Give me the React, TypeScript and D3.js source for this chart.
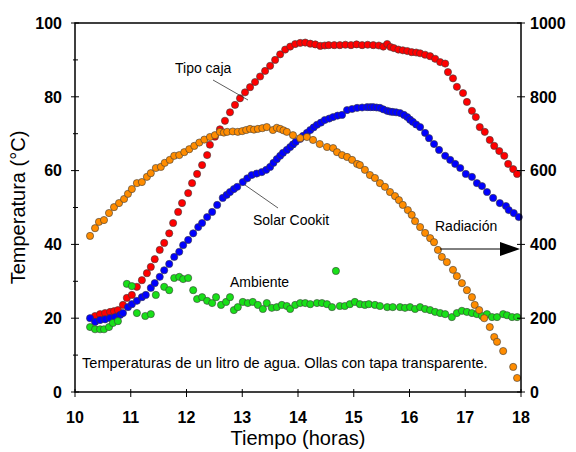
import React from 'react';
import * as d3 from 'd3';

// Tipo caja (°C)
const cajaT = [10.36, 10.45, 10.54, 10.63, 10.7, 10.77, 10.86, 10.93, 11.02, 11.11, 11.2, 11.29, 11.36, 11.43, 11.52, 11.6, 11.69, 11.76, 11.85, 11.92, 12.03, 12.1, 12.19, 12.28, 12.37, 12.42, 12.51, 12.6, 12.69, 12.78, 12.87, 12.96, 13.05, 13.14, 13.23, 13.32, 13.41, 13.5, 13.59, 13.68, 13.77, 13.86, 13.95, 14.04, 14.13, 14.22, 14.31, 14.4, 14.48, 14.55, 14.65, 14.75, 14.85, 14.95, 15.05, 15.15, 15.25, 15.35, 15.45, 15.53, 15.6, 15.66, 15.72, 15.8, 15.88, 15.96, 16.04, 16.12, 16.19, 16.28, 16.37, 16.46, 16.55, 16.64, 16.69, 16.78, 16.85, 16.96, 17.03, 17.12, 17.19, 17.26, 17.35, 17.44, 17.52, 17.61, 17.7, 17.77, 17.86, 17.93];
const cajaV = [20.6, 21.1, 21.4, 21.7, 21.9, 22.2, 23.6, 25.5, 26.3, 28.5, 30.3, 32.2, 33.9, 36.0, 38.5, 40.4, 43.0, 45.8, 48.8, 51.2, 53.9, 56.6, 59.1, 61.5, 64.2, 67.0, 69.2, 71.2, 73.5, 75.8, 77.8, 79.6, 81.2, 82.6, 84.0, 85.5, 87.0, 88.4, 90.0, 91.5, 92.8, 93.6, 94.3, 94.6, 94.7, 94.4, 94.2, 93.8, 93.9, 94.0, 94.0, 94.0, 94.1, 94.0, 94.2, 94.0, 94.1, 94.0, 93.9, 93.6, 94.3, 93.5, 93.2, 92.8, 92.6, 92.4, 92.1, 92.0, 91.8, 91.4, 91.0, 90.3, 89.4, 89.0, 86.7, 85.0, 82.7, 81.0, 78.6, 76.2, 74.5, 71.8, 70.5, 68.3, 66.7, 65.3, 64.0, 61.8, 60.4, 59.1];

// Solar Cookit (°C)
const cookitT = [10.27, 10.36, 10.45, 10.54, 10.63, 10.72, 10.81, 10.86, 10.95, 11.02, 11.11, 11.2, 11.27, 11.36, 11.43, 11.52, 11.6, 11.69, 11.78, 11.87, 11.94, 12.03, 12.12, 12.21, 12.28, 12.37, 12.46, 12.55, 12.65, 12.72, 12.78, 12.85, 12.91, 13.01, 13.09, 13.17, 13.26, 13.35, 13.43, 13.5, 13.56, 13.62, 13.68, 13.73, 13.8, 13.86, 13.91, 13.96, 14.04, 14.09, 14.16, 14.22, 14.28, 14.34, 14.41, 14.48, 14.56, 14.63, 14.71, 14.79, 14.88, 14.97, 15.06, 15.15, 15.24, 15.3, 15.35, 15.41, 15.47, 15.53, 15.6, 15.65, 15.7, 15.76, 15.83, 15.9, 15.96, 16.01, 16.06, 16.12, 16.19, 16.28, 16.35, 16.44, 16.53, 16.64, 16.73, 16.82, 16.91, 17.01, 17.12, 17.21, 17.3, 17.39, 17.5, 17.62, 17.73, 17.78, 17.87, 17.96];
const cookitV = [20.0, 19.0, 19.5, 19.7, 20.0, 20.3, 20.9, 21.4, 23.0, 23.8, 24.7, 25.7, 26.3, 28.2, 29.5, 31.2, 33.0, 34.7, 36.6, 38.0, 39.8, 41.2, 43.0, 44.7, 45.8, 47.4, 48.8, 50.7, 52.6, 53.4, 54.2, 55.0, 55.6, 56.9, 57.9, 58.8, 59.2, 59.6, 60.2, 61.0, 62.1, 63.1, 64.0, 64.8, 65.6, 66.4, 67.1, 67.8, 68.6, 69.4, 70.2, 71.0, 71.7, 72.4, 73.0, 73.7, 74.1, 74.5, 74.9, 75.1, 76.4, 76.7, 77.0, 77.1, 77.2, 77.2, 77.2, 77.1, 77.0, 76.6, 76.2, 76.0, 75.9, 75.8, 75.6, 75.1, 74.5, 73.8, 73.2, 72.5, 71.8, 70.2, 68.8, 67.2, 65.6, 64.0, 62.9, 61.8, 60.7, 59.1, 58.3, 56.6, 55.8, 54.2, 52.6, 51.2, 50.4, 49.3, 48.5, 47.4];

// Ambiente (°C)
const ambT = [10.27, 10.36, 10.45, 10.52, 10.61, 10.68, 10.77, 10.93, 11.02, 11.11, 11.26, 11.36, 11.45, 11.6, 11.69, 11.78, 11.87, 11.94, 12.03, 12.12, 12.19, 12.28, 12.37, 12.46, 12.53, 12.62, 12.71, 12.78, 12.85, 12.92, 13.01, 13.1, 13.19, 13.28, 13.37, 13.44, 13.53, 13.62, 13.71, 13.8, 13.86, 13.95, 14.04, 14.13, 14.22, 14.34, 14.43, 14.52, 14.61, 14.68, 14.75, 14.84, 14.93, 15.02, 15.11, 15.2, 15.27, 15.38, 15.47, 15.6, 15.7, 15.83, 15.92, 16.01, 16.1, 16.19, 16.28, 16.37, 16.46, 16.55, 16.64, 16.76, 16.85, 16.94, 17.03, 17.12, 17.21, 17.3, 17.39, 17.48, 17.57, 17.68, 17.75, 17.84, 17.93];
const ambV = [17.6, 17.0, 17.0, 17.0, 17.6, 18.7, 19.2, 29.3, 28.7, 21.4, 20.6, 21.1, 26.3, 28.5, 27.6, 30.9, 31.2, 30.6, 30.9, 27.6, 25.2, 25.7, 24.7, 24.1, 25.7, 23.6, 24.4, 25.7, 22.2, 23.0, 24.4, 24.1, 24.4, 23.6, 22.5, 24.1, 22.8, 23.0, 23.6, 23.3, 22.5, 23.6, 24.1, 24.1, 23.8, 24.1, 24.1, 23.8, 23.0, 32.8, 23.3, 23.3, 23.8, 24.4, 23.8, 23.6, 23.8, 23.6, 23.3, 23.0, 23.0, 23.0, 22.8, 23.0, 22.5, 23.0, 22.5, 22.2, 21.7, 21.4, 21.1, 20.3, 21.4, 22.0, 21.7, 21.4, 21.1, 20.6, 21.1, 20.3, 20.3, 21.1, 20.8, 20.3, 20.3];

// Radiación (W/m2, eje derecho)
const radT = [10.27, 10.36, 10.43, 10.52, 10.61, 10.7, 10.79, 10.88, 10.95, 11.02, 11.11, 11.2, 11.29, 11.36, 11.45, 11.54, 11.61, 11.7, 11.78, 11.87, 11.96, 12.05, 12.14, 12.23, 12.32, 12.42, 12.51, 12.6, 12.67, 12.73, 12.83, 12.92, 13.0, 13.07, 13.14, 13.21, 13.28, 13.36, 13.44, 13.55, 13.62, 13.68, 13.74, 13.8, 13.91, 14.04, 14.16, 14.27, 14.39, 14.52, 14.63, 14.7, 14.79, 14.88, 14.97, 15.06, 15.11, 15.2, 15.29, 15.38, 15.47, 15.56, 15.65, 15.74, 15.81, 15.88, 15.97, 16.04, 16.1, 16.19, 16.28, 16.37, 16.44, 16.51, 16.58, 16.67, 16.78, 16.85, 16.94, 17.03, 17.12, 17.17, 17.25, 17.34, 17.44, 17.52, 17.57, 17.68, 17.86, 17.93];
const radV = [423, 444, 461, 466, 485, 501, 512, 523, 537, 550, 566, 569, 583, 593, 607, 610, 621, 629, 640, 642, 650, 658, 667, 676, 684, 691, 696, 705, 703, 705, 706, 705, 707, 710, 713, 711, 713, 715, 718, 710, 716, 713, 709, 705, 696, 688, 691, 683, 672, 664, 661, 650, 642, 637, 629, 618, 615, 602, 588, 580, 566, 556, 542, 531, 520, 507, 493, 480, 463, 447, 431, 417, 406, 385, 366, 352, 331, 314, 295, 276, 257, 236, 222, 200, 176, 149, 136, 111, 68, 38];

const xTicks = [10, 11, 12, 13, 14, 15, 16, 17, 18];
const yTicks = [0, 20, 40, 60, 80, 100];
const yMinor = [10, 30, 50, 70, 90];
const y2Ticks = [0, 200, 400, 600, 800, 1000];

const W = 576;
const H = 452;
const left = 75;
const right = 521;
const top = 23;
const bottom = 392;

const x = d3.scaleLinear().domain([10, 18]).range([left, right]);
const y = d3.scaleLinear().domain([0, 100]).range([bottom, top]);
const y2 = d3.scaleLinear().domain([0, 1000]).range([bottom, top]);

const font = 'Arial, "Liberation Sans", sans-serif';

function Dots({ ts, vs, scale, fill }: { ts: number[]; vs: number[]; scale: any; fill: string }) {
  return (
    <g>
      {ts.map((t, i) => (
        <circle key={i} cx={x(t)} cy={scale(vs[i])} r={3.6} fill={fill} stroke="#3a3a3a" strokeWidth={0.6} />
      ))}
    </g>
  );
}

export default function App() {
  return (
    <svg width={W} height={H} style={{ position: 'absolute', left: 0, top: 0, background: '#fff' }} fontFamily={font}>
      <rect x={0} y={0} width={W} height={H} fill="#fff" />

      <Dots ts={cajaT} vs={cajaV} scale={y} fill="#ff0000" />
      <Dots ts={cookitT} vs={cookitV} scale={y} fill="#0000ff" />
      <Dots ts={ambT} vs={ambV} scale={y} fill="#18e018" />
      <Dots ts={radT} vs={radV} scale={y2} fill="#ff8c00" />

      {/* frame */}
      <rect x={left} y={top} width={right - left} height={bottom - top} fill="none" stroke="#000" strokeWidth={1.5} />

      {/* left axis */}
      {yTicks.map((v) => (
        <g key={'y' + v}>
          <line x1={left - 4} x2={left + 4} y1={y(v)} y2={y(v)} stroke="#000" strokeWidth={1} />
          <text x={left - 13} y={y(v)} dy="0.36em" textAnchor="end" fontSize={16} fontWeight="bold">{v}</text>
        </g>
      ))}
      {yMinor.map((v) => (
        <line key={'m' + v} x1={left - 2} x2={left + 3} y1={y(v)} y2={y(v)} stroke="#000" strokeWidth={1} />
      ))}

      {/* right axis */}
      {y2Ticks.map((v) => (
        <g key={'r' + v}>
          <line x1={right - 4} x2={right + 4} y1={y2(v)} y2={y2(v)} stroke="#000" strokeWidth={1} />
          <text x={right + 9} y={y2(v)} dy="0.36em" textAnchor="start" fontSize={16} fontWeight="bold">{v}</text>
        </g>
      ))}

      {/* bottom axis */}
      {xTicks.map((v) => (
        <g key={'x' + v}>
          <line x1={x(v)} x2={x(v)} y1={bottom - 3} y2={bottom + 5} stroke="#000" strokeWidth={1} />
          <text x={x(v)} y={423} textAnchor="middle" fontSize={16} fontWeight="bold">{v}</text>
        </g>
      ))}

      <text x={298} y={445} textAnchor="middle" fontSize={20}>Tiempo (horas)</text>
      <text transform={`translate(25,${(top + bottom) / 2}) rotate(-90)`} textAnchor="middle" fontSize={20}>Temperatura (°C)</text>

      {/* annotations */}
      <text x={175} y={73} fontSize={14}>Tipo caja</text>
      <line x1={213} y1={80} x2={248} y2={100} stroke="#333" strokeWidth={0.8} />
      <text x={253} y={225} fontSize={14}>Solar Cookit</text>
      <line x1={245} y1={185} x2={278} y2={208} stroke="#333" strokeWidth={0.8} />
      <text x={230} y={287} fontSize={14}>Ambiente</text>
      <text x={435} y={231} fontSize={14}>Radiación</text>
      <line x1={440} y1={249} x2={502} y2={249} stroke="#000" strokeWidth={1} />
      <path d="M500,242 L520,249 L500,256 Z" fill="#000" />
      <text x={82} y={368} fontSize={14.6}>Temperaturas de un litro de agua. Ollas con tapa transparente.</text>
    </svg>
  );
}
